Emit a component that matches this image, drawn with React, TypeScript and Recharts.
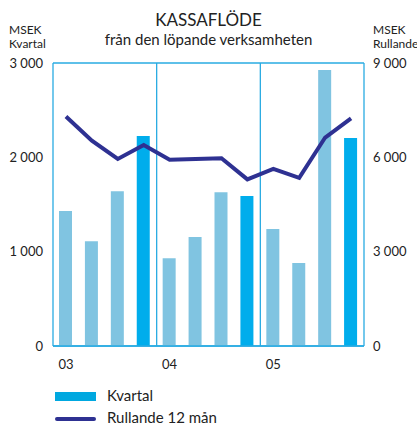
import { Bar, CartesianGrid, Cell, ComposedChart, Line, ReferenceLine, XAxis, YAxis } from 'recharts'

const periods = [
  '2003 K1', '2003 K2', '2003 K3', '2003 K4',
  '2004 K1', '2004 K2', '2004 K3', '2004 K4',
  '2005 K1', '2005 K2', '2005 K3', '2005 K4',
]
const kvartal = [1430, 1110, 1640, 2225, 930, 1155, 1630, 1590, 1240, 880, 2925, 2205]
const rullande = [7300, 6530, 5950, 6390, 5920, 5950, 5970, 5300, 5630, 5350, 6630, 7240]
const leftTicks = [0, 1000, 2000, 3000]
const rightTicks = [0, 3000, 6000, 9000]
// gränser mellan åren, i kvartalsindex
const yearBreaks = [3.5, 7.5]

const BLUE = '#29abe2'
const LIGHT = '#80c4e1'
const DARK = '#00adec'
const NAVY = '#2e3192'
const FONT = 'Lato, "DejaVu Sans", sans-serif'

const fmt = (v: number) => (v === 0 ? '0' : `${Math.floor(v / 1000)} ${String(v % 1000).padStart(3, '0')}`)

const data = periods.map((p, i) => ({ period: p, idx: i, kvartal: kvartal[i], rullande: rullande[i] }))

const txt = { position: 'absolute' as const, fontFamily: FONT, color: '#222', whiteSpace: 'nowrap' as const }

export default function App() {
  return (
    <div style={{ position: 'absolute', left: 0, top: 0, width: 417, height: 425, background: '#fff', overflow: 'hidden' }}>
      <div style={{ ...txt, left: 0, width: 417, top: 9, textAlign: 'center', fontSize: 17 }}>KASSAFLÖDE</div>
      <div style={{ ...txt, left: 0, width: 417, top: 30, textAlign: 'center', fontSize: 15 }}>från den löpande verksamheten</div>
      <div style={{ ...txt, left: 9, top: 23, fontSize: 12, lineHeight: '14px' }}>MSEK<br />Kvartal</div>
      <div style={{ ...txt, left: 373, top: 23, fontSize: 12, lineHeight: '14px' }}>MSEK<br />Rullande</div>

      <ComposedChart
        width={417}
        height={425}
        data={data}
        margin={{ top: 63, right: 0, bottom: 49, left: 8 }}
        style={{ position: 'absolute', left: 0, top: 0 }}
      >
        <CartesianGrid vertical={false} stroke={BLUE} strokeWidth={1.3} />
        <XAxis
          dataKey="period"
          interval={0}
          height={30}
          tickLine={false}
          tickMargin={8}
          axisLine={{ stroke: BLUE, strokeWidth: 1.3 }}
          tick={{ fontSize: 13, fill: '#222', fontFamily: FONT }}
          tickFormatter={(p: string) => (p.endsWith('K1') ? p.slice(2, 4) : '')}
        />
        <XAxis
          xAxisId="yr"
          dataKey="idx"
          type="number"
          domain={[-0.5, periods.length - 0.5]}
          allowDataOverflow
          hide
        />
        <YAxis
          yAxisId="left"
          width={45}
          domain={[0, 3000]}
          ticks={leftTicks}
          tickLine={false}
          tickMargin={4}
          axisLine={{ stroke: BLUE, strokeWidth: 1.3 }}
          tick={{ fontSize: 13, fill: '#222', fontFamily: FONT }}
          tickFormatter={fmt}
        />
        <YAxis
          yAxisId="right"
          orientation="right"
          width={53}
          domain={[0, 9000]}
          ticks={rightTicks}
          tickLine={false}
          tickMargin={3}
          axisLine={{ stroke: BLUE, strokeWidth: 1.3 }}
          tick={{ fontSize: 13, fill: '#222', fontFamily: FONT }}
          tickFormatter={fmt}
        />
        {yearBreaks.map((x) => (
          <ReferenceLine key={x} xAxisId="yr" yAxisId="left" x={x} stroke={BLUE} strokeWidth={1.3} />
        ))}
        <Bar yAxisId="left" dataKey="kvartal" barSize={13} isAnimationActive={false}>
          {data.map((d, i) => (
            <Cell key={i} fill={d.period.endsWith('K4') ? DARK : LIGHT} />
          ))}
        </Bar>
        <Line
          yAxisId="right"
          dataKey="rullande"
          stroke={NAVY}
          strokeWidth={4}
          dot={false}
          type="linear"
          isAnimationActive={false}
        />
      </ComposedChart>

      <div style={{ position: 'absolute', left: 55, top: 392, width: 41, height: 9, background: '#00a8e0' }} />
      <div style={{ ...txt, left: 107, top: 386, fontSize: 15 }}>Kvartal</div>
      <div style={{ position: 'absolute', left: 55, top: 417, width: 41, height: 4, borderRadius: 2, background: NAVY }} />
      <div style={{ ...txt, left: 107, top: 408, fontSize: 15 }}>Rullande 12 mån</div>
    </div>
  )
}
